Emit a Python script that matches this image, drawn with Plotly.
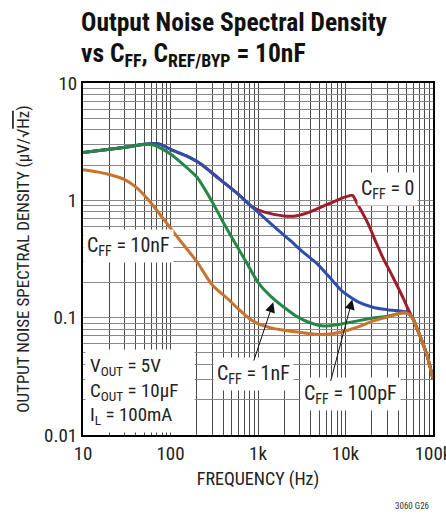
import math
import plotly.graph_objects as go

# ---------------- data ----------------
freq_red = [10, 20, 35, 50, 65, 77, 100, 150, 220, 370, 575, 855, 1000, 1400, 2000, 2800, 4000, 5500,
            7500, 10000, 12000, 13500, 18000, 22000, 27000, 33000, 40000, 46000, 52000, 58000, 66000,
            75000, 86000, 100000]
nsd_red = [2.55, 2.72, 2.88, 3.0, 3.05, 3.0, 2.72, 2.4, 2.05, 1.5, 1.15, 0.88, 0.83, 0.77, 0.735, 0.74,
           0.8, 0.89, 0.98, 1.07, 1.1, 0.95, 0.64, 0.45, 0.32, 0.24, 0.18, 0.145, 0.118, 0.1, 0.08,
           0.063, 0.047, 0.03]

freq_blue = [10, 20, 35, 50, 65, 77, 100, 150, 220, 370, 575, 855, 1380, 1950, 2330, 3300, 4700, 6500,
             8800, 11000, 13700, 21000, 30000, 42000, 50000, 55000, 60000, 66000, 75000, 86000, 100000]
nsd_blue = [2.55, 2.72, 2.88, 3.0, 3.05, 3.0, 2.72, 2.4, 2.05, 1.5, 1.15, 0.88, 0.64, 0.51, 0.455,
            0.36, 0.29, 0.223, 0.173, 0.152, 0.137, 0.122, 0.117, 0.114, 0.112, 0.105, 0.096, 0.08,
            0.063, 0.047, 0.03]

freq_green = [10, 20, 35, 50, 65, 85, 100, 130, 160, 200, 300, 400, 530, 750, 1000, 1400, 2000, 2800,
              4000, 5600, 8000, 12000, 20000, 30000, 40000, 46000, 50000, 55000, 60000, 66000, 75000,
              86000, 100000]
nsd_green = [2.55, 2.72, 2.88, 3.0, 2.95, 2.68, 2.48, 2.12, 1.85, 1.58, 0.97, 0.65, 0.45, 0.29, 0.2, 0.152,
             0.122, 0.102, 0.09, 0.085, 0.087, 0.092, 0.099, 0.103, 0.108, 0.11, 0.11, 0.105, 0.096,
             0.08, 0.063, 0.047, 0.03]

freq_orange = [10, 15, 20, 30, 40, 60, 80, 100, 130, 200, 300, 450, 600, 800, 1000, 1500, 2000, 3000,
               5000, 7000, 10000, 15000, 20000, 30000, 40000, 46000, 50000, 55000, 60000, 66000, 75000,
               86000, 100000]
nsd_orange = [1.82, 1.74, 1.66, 1.5, 1.3, 0.95, 0.72, 0.58, 0.45, 0.3, 0.19, 0.145, 0.118, 0.098, 0.089,
              0.081, 0.078, 0.075, 0.072, 0.073, 0.077, 0.085, 0.093, 0.101, 0.108, 0.11, 0.109, 0.105,
              0.096, 0.08, 0.063, 0.047, 0.03]

x_tick_vals = [m * 10 ** e for e in range(1, 5) for m in range(1, 10)] + [100000]
x_tick_text = ["10", "100", "1k", "10k", "100k"]
y_tick_vals = [m * 10 ** e for e in range(-2, 1) for m in range(1, 10)] + [10]
y_tick_text = ["0.01", "0.1", "1", "10"]

# ---------------- geometry helpers ----------------
W, H = 446, 516
L, R, T, B = 83, 433, 83, 435


def px(xp):
    return (xp - L) / (R - L)


def py(yp):
    return (B - yp) / (B - T)


def lab(vals, labels):
    out = []
    j = 0
    for v in vals:
        if abs(math.log10(v) - round(math.log10(v))) < 1e-9:
            out.append(labels[j])
            j += 1
        else:
            out.append("")
    return out


FONT = "Liberation Sans Narrow, Roboto Condensed, Arial Narrow, DejaVu Sans Condensed, sans-serif"

fig = go.Figure()
series = [
    (freq_red, nsd_red, "#A01C2A"),
    (freq_blue, nsd_blue, "#2D4FAA"),
    (freq_green, nsd_green, "#248745"),
    (freq_orange, nsd_orange, "#C8742E"),
]
for f, v, c in series:
    fig.add_trace(go.Scatter(x=f, y=v, mode="lines",
                             line=dict(color=c, width=3, shape="spline", smoothing=0.7),
                             hoverinfo="skip", showlegend=False))

fig.update_xaxes(type="log", range=[1, 5.000001], tickmode="array", tickvals=x_tick_vals,
                 ticktext=lab(x_tick_vals, x_tick_text), showgrid=True, gridcolor="#4a4a4a",
                 gridwidth=1, showline=True, linecolor="black", linewidth=2, mirror=True,
                 ticks="", zeroline=False, tickfont=dict(size=19, color="#222"), automargin=False,
                 ticklabeloverflow="allow",
                 title=dict(text="FREQUENCY (Hz)", font=dict(size=18, color="#222"), standoff=9))
fig.update_yaxes(type="log", range=[-2.000001, 1.000001], tickmode="array", tickvals=y_tick_vals,
                 ticktext=lab(y_tick_vals, y_tick_text), showgrid=True, gridcolor="#888",
                 gridwidth=1, showline=True, linecolor="black", linewidth=2, mirror=True,
                 ticks="", zeroline=False, tickfont=dict(size=19, color="#222"), automargin=False,
                 ticklabeloverflow="allow",
                 title=dict(text="OUTPUT NOISE SPECTRAL DENSITY (µV/√<span style='text-decoration:overline'>Hz</span>)",
                            font=dict(size=17, color="#222"), standoff=10))

ann = []
# title
ann.append(dict(xref="paper", yref="paper", x=px(79), y=py(22), xanchor="left", yanchor="middle",
                text="<b>Output Noise Spectral Density</b>", showarrow=False,
                font=dict(size=25.5, color="#111")))
ann.append(dict(xref="paper", yref="paper", x=px(79), y=py(55), xanchor="left", yanchor="middle",
                text="<b>vs C<sub>FF</sub>, C<sub>REF/BYP</sub> = 10nF</b>", showarrow=False,
                font=dict(size=25.5, color="#111")))
# curve labels
def label(text, cx, cy):
    return dict(xref="paper", yref="paper", x=px(cx), y=py(cy), xanchor="center", yanchor="middle",
                text=text, showarrow=False, bgcolor="white", borderpad=3,
                font=dict(size=20, color="#222"))

ann.append(label("C<sub>FF</sub> = 0", 387, 189))
ann.append(label("C<sub>FF</sub> = 10nF", 128, 246))
ann.append(label("C<sub>FF</sub> = 1nF", 253, 374))
ann.append(label("C<sub>FF</sub> = 100pF", 350, 394))
# conditions box
ann.append(dict(xref="paper", yref="paper", x=px(85), y=py(433), xanchor="left", yanchor="bottom",
                text="V<sub>OUT</sub> = 5V<br>C<sub>OUT</sub> = 10µF<br>I<sub>L</sub> = 100mA",
                align="left", showarrow=False, bgcolor="white", borderpad=4, width=100,
                font=dict(size=19, color="#222")))
# arrows (log10 coordinates on log axes)
ann.append(dict(xref="x", yref="y", axref="x", ayref="y",
                x=math.log10(1496), y=math.log10(0.135), ax=math.log10(883), ay=math.log10(0.0418),
                text="", showarrow=True, arrowhead=2, arrowsize=2, arrowwidth=1, arrowcolor="#111"))
ann.append(dict(xref="x", yref="y", axref="x", ayref="y",
                x=math.log10(11970), y=math.log10(0.143), ax=math.log10(6700), ay=math.log10(0.028),
                text="", showarrow=True, arrowhead=2, arrowsize=2, arrowwidth=1, arrowcolor="#111"))
# figure code
ann.append(dict(xref="paper", yref="paper", x=px(412), y=py(506), xanchor="center", yanchor="middle",
                text="3060 G26", showarrow=False, font=dict(size=9, color="#333")))

fig.update_layout(width=W, height=H, margin=dict(l=L, r=W - R, t=T, b=H - B),
                  paper_bgcolor="white", plot_bgcolor="white",
                  font=dict(family=FONT, color="#222"), annotations=ann, showlegend=False)

fig.write_html("out.html", config={"displayModeBar": False, "staticPlot": True},
               post_script="document.body.style.margin='0px';document.body.style.overflow='hidden';")
